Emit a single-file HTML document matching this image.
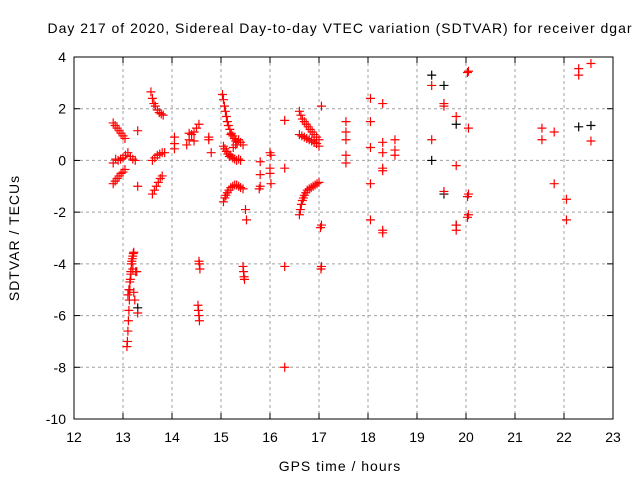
<!DOCTYPE html>
<html><head><meta charset="utf-8"><style>
body{margin:0;background:#fff;}
svg text{font-family:"Liberation Sans",sans-serif;font-size:14px;fill:#000;}
svg text.t{letter-spacing:1px;}
</style></head><body>
<svg id="chart" width="640" height="480" xmlns="http://www.w3.org/2000/svg">
<text class="t" x="340" y="33" text-anchor="middle">Day 217 of 2020, Sidereal Day-to-day VTEC variation (SDTVAR) for receiver dgar</text>
<g id="grid"></g>
<g id="axes"></g>
<g id="pts"></g>
<text class="t" x="340" y="471" text-anchor="middle">GPS time / hours</text>
<text class="t" transform="translate(19,238) rotate(-90)" text-anchor="middle">SDTVAR / TECUs</text>
</svg>
<script>
const xTicks=[12,13,14,15,16,17,18,19,20,21,22,23];
const yTicks=[4,2,0,-2,-4,-6,-8,-10];
// red series, grouped by satellite pass: [hour, SDTVAR]
const red13=[[12.8,1.45],[12.84,1.35],[12.88,1.25],[12.92,1.15],[12.96,1.05],[13.0,0.95],[13.04,0.85],
[12.8,-0.1],[12.85,0.05],[12.9,0.0],[12.95,0.05],[13.0,0.1],[13.05,0.2],[13.1,0.3],[13.15,0.15],[13.2,0.05],[13.25,0.0],
[12.8,-0.9],[12.84,-0.8],[12.88,-0.7],[12.92,-0.6],[12.96,-0.5],[13.0,-0.45],[13.04,-0.35],[13.3,1.15],[13.3,-1.0]];
const red13low=[[13.08,-7.2],[13.09,-7.0],[13.1,-6.6],[13.11,-6.2],[13.12,-5.8],[13.13,-5.4],[13.14,-5.0],[13.15,-4.6],[13.16,-4.3],
[13.17,-4.0],[13.18,-3.9],[13.19,-3.8],[13.2,-3.7],[13.21,-3.6],[13.22,-3.55],[13.1,-5.2],[13.12,-5.0],[13.14,-4.7],[13.16,-4.4],
[13.2,-4.2],[13.22,-5.1],[13.24,-5.4],[13.28,-4.3],[13.3,-5.9],[13.26,-4.3]];
const red14=[[13.57,2.65],[13.6,2.4],[13.63,2.2],[13.66,2.1],[13.7,1.95],[13.74,1.85],[13.78,1.8],[13.82,1.75],
[13.6,0.0],[13.65,0.1],[13.7,0.2],[13.75,0.25],[13.8,0.3],[13.85,0.3],
[13.6,-1.3],[13.64,-1.15],[13.68,-1.0],[13.72,-0.85],[13.76,-0.7],[13.8,-0.6],
[14.05,0.9],[14.05,0.65],[14.05,0.45],[14.3,0.6],[14.35,0.8],[14.4,1.0],[14.45,1.1],[14.5,1.25],[14.55,1.4],[14.35,1.05],[14.45,0.75],
[14.75,0.9],[14.75,0.8],[14.8,0.3],[14.55,-3.9],[14.56,-4.0],[14.57,-4.2],[14.53,-5.6],[14.54,-5.8],[14.55,-6.0],[14.56,-6.2]];
const red15=[[15.03,2.55],[15.05,2.35],[15.07,2.1],[15.09,1.9],[15.11,1.7],[15.13,1.5],[15.15,1.35],[15.18,1.2],[15.21,1.05],[15.24,0.95],
[15.27,0.85],[15.3,0.75],[15.33,0.7],[15.36,0.8],[15.4,0.7],[15.45,0.6],
[15.05,0.55],[15.08,0.45],[15.11,0.35],[15.14,0.25],[15.17,0.15],[15.2,0.2],[15.24,0.1],[15.28,0.05],[15.32,0.0],[15.36,0.05],[15.4,0.0],
[15.2,1.0],[15.25,0.5],[15.3,0.6],
[15.05,-1.6],[15.08,-1.45],[15.1,-1.35],[15.13,-1.25],[15.16,-1.15],[15.2,-1.05],[15.24,-1.0],[15.28,-0.95],[15.32,-0.95],[15.36,-1.0],
[15.4,-1.05],[15.45,-1.1],[15.5,-1.9],[15.52,-2.3],[15.45,-4.1],[15.46,-4.3],[15.47,-4.5],[15.48,-4.6]];
const red16=[[15.8,-0.05],[15.8,-0.55],[15.8,-1.0],[15.78,-1.1],[16.0,0.3],[16.02,0.2],[16.0,-0.3],[16.0,-0.5],[16.02,-0.9],
[16.3,1.55],[16.3,-0.3],[16.3,-4.1],[16.3,-8.0]];
const red17=[[16.6,1.9],[16.63,1.75],[16.66,1.6],[16.7,1.5],[16.74,1.4],[16.78,1.3],[16.82,1.2],[16.86,1.1],[16.9,1.0],[16.95,0.9],[17.0,0.8],
[16.6,1.0],[16.65,0.95],[16.7,0.9],[16.75,0.85],[16.8,0.8],[16.85,0.75],[16.9,0.7],[16.95,0.65],[17.0,0.55],
[16.6,-2.1],[16.62,-1.9],[16.64,-1.7],[16.66,-1.55],[16.68,-1.45],[16.7,-1.35],[16.73,-1.25],[16.76,-1.15],[16.8,-1.1],[16.84,-1.05],
[16.88,-1.0],[16.92,-0.95],[16.96,-0.9],[17.0,-0.85],[17.05,2.1],[17.05,-2.5],[17.03,-2.6],[17.05,-4.1],[17.04,-4.2]];
const red18=[[17.55,1.5],[17.55,1.1],[17.55,0.8],[17.55,0.2],[17.55,-0.1],[18.05,2.4],[18.05,1.5],[18.05,0.5],[18.05,-0.9],[18.05,-2.3],
[18.3,2.2],[18.3,0.7],[18.3,0.3],[18.3,-0.3],[18.3,-0.4],[18.3,-2.7],[18.3,-2.8],[18.55,0.8],[18.55,0.4],[18.55,0.2]];
const red20=[[19.3,2.9],[19.3,0.8],[19.55,2.2],[19.55,2.1],[19.55,-1.2],[19.8,1.7],[19.8,-0.2],[19.8,-2.5],[19.8,-2.7],
[20.05,3.45],[20.03,3.4],[20.05,1.25],[20.05,-1.3],[20.03,-1.4],[20.05,-2.1],[20.03,-2.2]];
const red22=[[21.55,1.25],[21.55,0.8],[21.8,1.1],[21.8,-0.9],[22.05,-1.5],[22.05,-2.3],[22.3,3.55],[22.3,3.3],[22.55,3.75],[22.55,0.75]];
const blackPts=[[19.3,3.3],[19.3,0.0],[19.55,2.9],[19.55,-1.3],[19.8,1.4],[19.8,-2.5],[22.3,1.3],[22.55,1.35],[13.3,-5.7]];

const L=74,R=613,T=57,B=419;
const xs=v=>L+(v-12)/(23-12)*(R-L);
const ys=v=>T+(4-v)/(4+10)*(B-T);
const NS="http://www.w3.org/2000/svg";
function mk(tag,attrs,parent){const e=document.createElementNS(NS,tag);for(const k in attrs)e.setAttribute(k,attrs[k]);parent.appendChild(e);return e;}
const grid=document.getElementById('grid'),axes=document.getElementById('axes'),pts=document.getElementById('pts');
xTicks.forEach(t=>{const x=xs(t);
 if(t>12&&t<23){const g=mk('line',{x1:x,x2:x,y1:T,y2:B,stroke:'#a0a0a0','stroke-dasharray':'3,3'},grid);
 
 }
 mk('line',{x1:x,x2:x,y1:B,y2:B-6,stroke:'#000'},axes);
 mk('line',{x1:x,x2:x,y1:T,y2:T+6,stroke:'#000'},axes);
 const tx=mk('text',{x:x,y:B+23,'text-anchor':'middle'},axes);tx.textContent=t;
 
 
});
yTicks.forEach(t=>{const y=ys(t);
 if(t<4&&t>-10){const g=mk('line',{x1:L,x2:R,y1:y,y2:y,stroke:'#a0a0a0','stroke-dasharray':'3,3'},grid);
 
 }
 mk('line',{x1:L,x2:L+6,y1:y,y2:y,stroke:'#000'},axes);
 mk('line',{x1:R,x2:R-6,y1:y,y2:y,stroke:'#000'},axes);
 const tx=mk('text',{x:L-8,y:y+5,'text-anchor':'end'},axes);tx.textContent=t;
 
 
});
const box=mk('rect',{x:L,y:T,width:R-L,height:B-T,fill:'none',stroke:'#000'},axes);


function plus(xv,yv,col){const x=xs(xv),y=ys(yv);
 const p=mk('path',{d:`M${x-4.5},${y}H${x+4.5}M${x},${y-4.5}V${y+4.5}`,stroke:col,'stroke-width':1.2,fill:'none'},pts);
 
 }
blackPts.forEach(p=>plus(p[0],p[1],'#000'));
[red13,red13low,red14,red15,red16,red17,red18,red20,red22].forEach(g=>g.forEach(p=>plus(p[0],p[1],'#ff0000')));
</script>
</body></html>
